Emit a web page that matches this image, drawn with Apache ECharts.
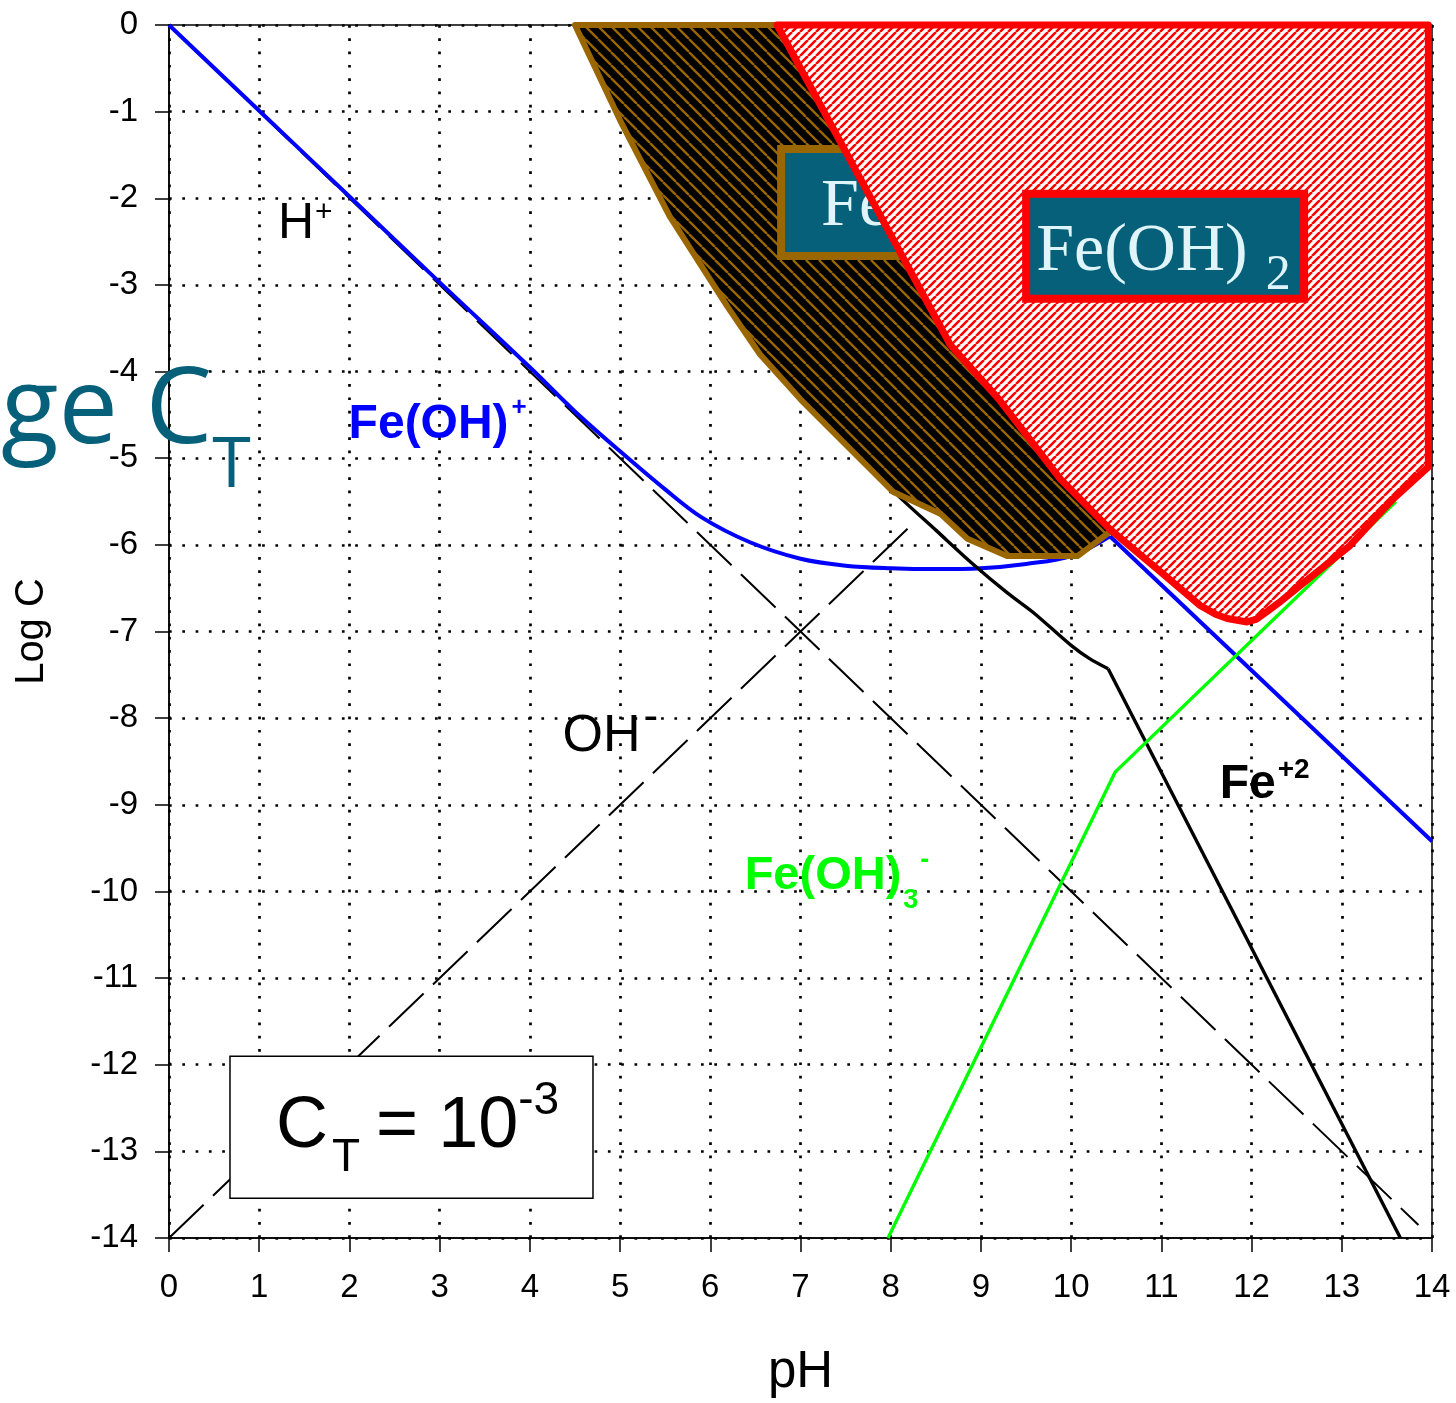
<!DOCTYPE html>
<html><head><meta charset="utf-8">
<script src="https://cdn.jsdelivr.net/npm/echarts@6/dist/echarts.min.js"></script>
<style>html,body{margin:0;padding:0;background:#fff}#c{width:1456px;height:1403px}</style>
</head><body><div id="c"></div>
<script>
// ---------------- data ----------------
const hX = [0, 13.85];            const hY = [0, -13.85];          // log[H+]
const ohX = [0, 8.24];            const ohY = [-14, -5.76];        // log[OH-]
const feOHX = [0, 1, 2, 3, 4, 4.5, 5, 5.5, 5.9, 6.44, 7, 7.5, 8, 8.5, 9, 9.5, 10, 10.43];
const feOHY = [0, -0.99, -1.98, -2.97, -3.95, -4.46, -4.92, -5.36, -5.68, -5.97, -6.16, -6.24, -6.27, -6.28, -6.27, -6.22, -6.13, -5.9];
const feOHTailX = [10.43, 14];
const feOHTailY = [-5.9, -9.42];
const fe2X = [7.7, 8.07, 8.5, 8.91, 9.3, 9.58, 10.0, 10.2, 10.41];
const fe2Y = [-5.02, -5.42, -5.83, -6.22, -6.56, -6.78, -7.16, -7.31, -7.43];
const fe2TailX = [10.41, 13.65];
const fe2TailY = [-7.43, -14];
const feOH3X = [7.97, 10.49, 13.6];
const feOH3Y = [-14, -8.62, -5.5];
const brownX = [4.5, 5.0, 5.55, 6.19, 6.55, 7.0, 8.03, 8.55, 8.85, 9.29, 10.07, 10.43, 13.46];
const brownY = [0, -1.1, -2.21, -3.25, -3.8, -4.32, -5.39, -5.64, -5.93, -6.13, -6.13, -5.85, 0];
const redX = [6.74, 8.66, 9.2, 9.88, 10.43, 10.99, 11.43, 11.6, 11.73, 11.95, 12.05, 12.17, 12.3, 12.54, 13.09, 13.57, 13.96, 13.96];
const redY = [0, -3.69, -4.32, -5.24, -5.82, -6.31, -6.70, -6.8, -6.85, -6.89, -6.86, -6.77, -6.67, -6.47, -6.01, -5.47, -5.1, 0];
const xMin = 0, xMax = 14, yMin = -14, yMax = 0, step = 1;

// ---------------- styling helpers ----------------
const SANS = '"Liberation Sans", Arial, sans-serif';
const SERIF = '"Liberation Serif", "Times New Roman", serif';
const OPEN = '"Open Sans", sans-serif';
const TEAL = '#06607a';
const zip = (a, b) => a.map((v, i) => [v, b[i]]);

function stripes(P, bg, fg, w, dir) {
  const c = document.createElement('canvas'); c.width = P; c.height = P;
  const g = c.getContext('2d');
  g.fillStyle = bg; g.fillRect(0, 0, P, P);
  g.strokeStyle = fg; g.lineWidth = w; g.beginPath();
  for (let k = -1; k <= 1; k++) {
    if (dir === 'back') { g.moveTo(k * P, 0); g.lineTo(k * P + P, P); }
    else { g.moveTo(k * P, P); g.lineTo(k * P + P, 0); }
  }
  g.stroke();
  return c;
}
const brownPattern = { image: stripes(13, '#000000', '#996600', 2.4, 'back'), repeat: 'repeat' };
const redPattern = { image: stripes(8, '#ffffff', '#ff0000', 2.6, 'fwd'), repeat: 'repeat' };

const meas = document.createElement('canvas').getContext('2d');
function runs(x, yBase, parts) {
  const els = []; let cx = x;
  for (const p of parts) {
    const fam = p.family || SANS;
    const font = (p.bold ? 'bold ' : '') + p.size + 'px ' + fam;
    meas.font = font;
    cx += p.dx || 0;
    const k = p.k != null ? p.k : 0.3465;
    els.push({ type: 'text', x: cx, y: yBase + (p.dy || 0) - k * p.size,
      style: { text: p.t, font: font, fill: p.color || '#000', align: 'left', verticalAlign: 'middle' } });
    cx += meas.measureText(p.t).width;
  }
  return els;
}

// ---------------- annotations (anchor in data coords, offsets in px) ----------------
const freeLabels = [
  { at: [1.208, -2.50], parts: [{ t: 'H', size: 50 }, { t: '+', size: 30, dy: -18, dx: 1 }] },
  { at: [4.363, -8.427], parts: [{ t: 'OH', size: 52 }, { t: '-', size: 44, dy: -22, dx: 3 }] },
  { at: [1.991, -4.802], parts: [{ t: 'Fe(OH)', size: 48, bold: true, color: '#0000ff' }, { t: '+', size: 26, bold: true, dy: -24, dx: 3, color: '#0000ff' }] },
  { at: [11.646, -8.956], parts: [{ t: 'Fe', size: 48, bold: true }, { t: '+2', size: 28, bold: true, dy: -21, dx: 2 }] },
  { at: [6.381, -10.015], parts: [{ t: 'Fe(OH)', size: 47, bold: true, color: '#00ff00' }, { t: '3', size: 27, bold: true, dy: 17, dx: 2, color: '#00ff00' }, { t: '-', size: 27, bold: true, dy: -23, dx: 2, color: '#00ff00' }] },
  { at: [-1.863, -4.952], parts: [{ t: 'ge C', size: 106, family: OPEN, k: 0.388, color: TEAL }, { t: 'T', size: 70, family: OPEN, k: 0.388, dy: 40, dx: 0, color: TEAL }] }
];
const brownBox = { at: [6.785, -1.43], w: 278, h: 107, fill: TEAL, stroke: '#996600', lw: 8, tx: 40, tb: 81,
  parts: [{ t: 'Fe', size: 68, family: SERIF, k: 0.3375, color: '#dff5f9' }] };
const redBox = { at: [9.501, -1.948], w: 278, h: 105, fill: TEAL, stroke: '#ff0000', lw: 8, tx: 10, tb: 81,
  parts: [{ t: 'Fe(OH)', size: 68, family: SERIF, k: 0.3375, color: '#dff5f9' }, { t: '2', size: 50, family: SERIF, k: 0.3375, dy: 18, dx: 18, color: '#dff5f9' }] };
const ctBox = { at: [0.676, -11.902], w: 363, h: 142, fill: '#ffffff', stroke: '#000000', lw: 1.5, tx: 46, tb: 96,
  parts: [{ t: 'C', size: 72 }, { t: 'T', size: 46, dy: 22, dx: 4 }, { t: ' = 10', size: 72, dx: -4 }, { t: '-3', size: 46, dy: -35, dx: 0 }] };

function polygonSeries(xs, ys, fill, stroke, lw, z) {
  return { type: 'custom', coordinateSystem: 'cartesian2d', z: z, silent: true, clip: false,
    data: zip(xs, ys),
    renderItem: function (params, api) {
      if (params.dataIndex !== 0) return null;
      const pts = xs.map((x, i) => api.coord([x, ys[i]]));
      return { type: 'polygon', shape: { points: pts }, style: { fill: fill, stroke: stroke, lineWidth: lw, lineJoin: 'round' } };
    } };
}
function boxSeries(box, z) {
  return { type: 'custom', coordinateSystem: 'cartesian2d', z: z, silent: true, clip: false,
    data: [box.at],
    renderItem: function (params, api) {
      const p = api.coord(box.at);
      return { type: 'group', children: [
        { type: 'rect', shape: { x: p[0], y: p[1], width: box.w, height: box.h },
          style: { fill: box.fill, stroke: box.stroke, lineWidth: box.lw } }
      ].concat(runs(p[0] + box.tx, p[1] + box.tb, box.parts)) };
    } };
}
const labelSeries = { type: 'custom', coordinateSystem: 'cartesian2d', z: 8, silent: true, clip: false,
  data: freeLabels.map(l => l.at),
  renderItem: function (params, api) {
    const l = freeLabels[params.dataIndex];
    const p = api.coord(l.at);
    return { type: 'group', children: runs(p[0], p[1], l.parts) };
  } };

function lineSeries(xs, ys, color, width, type, z, smooth) {
  return { type: 'line', data: zip(xs, ys), showSymbol: false, symbol: 'none', silent: true, z: z, smooth: smooth || false,
    lineStyle: { color: color, width: width, type: type || 'solid', cap: 'butt' } };
}

const axisCommon = {
  type: 'value', interval: step,
  axisLine: { show: true, onZero: false, lineStyle: { color: '#000', width: 1.5 } },
  axisTick: { show: true, inside: false, length: 14, lineStyle: { color: '#000', width: 1.5 } },
  axisLabel: { color: '#000', fontSize: 33, fontFamily: SANS },
  splitLine: { show: true, lineStyle: { color: '#000', width: 2.7, type: [2.7, 10.6] } },
  nameTextStyle: { color: '#000', fontFamily: SANS }
};

const chart = echarts.init(document.getElementById('c'), null, { renderer: 'canvas' });
chart.setOption({
  animation: false,
  backgroundColor: '#fff',
  grid: { left: 169, right: 24, top: 25, bottom: 162, show: true, borderColor: '#000', borderWidth: 1.5, backgroundColor: 'transparent' },
  xAxis: Object.assign({}, axisCommon, { min: xMin, max: xMax, name: 'pH', nameLocation: 'middle', nameGap: 109,
    axisLabel: Object.assign({}, axisCommon.axisLabel, { margin: 33 }),
    nameTextStyle: { color: '#000', fontFamily: SANS, fontSize: 51 } }),
  yAxis: Object.assign({}, axisCommon, { min: yMin, max: yMax, name: 'Log C', nameLocation: 'middle', nameRotate: 90, nameGap: 117,
    axisLabel: Object.assign({}, axisCommon.axisLabel, { margin: 31 }),
    nameTextStyle: { color: '#000', fontFamily: SANS, fontSize: 40 } }),
  series: [
    lineSeries(hX, hY, '#000', 2, [48, 13], 2),
    lineSeries(ohX, ohY, '#000', 2, [48, 13], 2),
    lineSeries(feOHX, feOHY, '#0000ff', 4, 'solid', 2, 0.35),
    lineSeries(feOHTailX, feOHTailY, '#0000ff', 4, 'solid', 2),
    lineSeries(fe2X, fe2Y, '#000', 3.4, 'solid', 2, 0.3),
    lineSeries(fe2TailX, fe2TailY, '#000', 3.4, 'solid', 2),
    lineSeries(feOH3X, feOH3Y, '#00ff00', 3.4, 'solid', 2),
    polygonSeries(brownX, brownY, brownPattern, '#996600', 6, 3),
    boxSeries(brownBox, 4),
    polygonSeries(redX, redY, redPattern, '#ff0000', 7, 5),
    boxSeries(redBox, 6),
    boxSeries(ctBox, 7),
    labelSeries
  ]
});
</script></body></html>
